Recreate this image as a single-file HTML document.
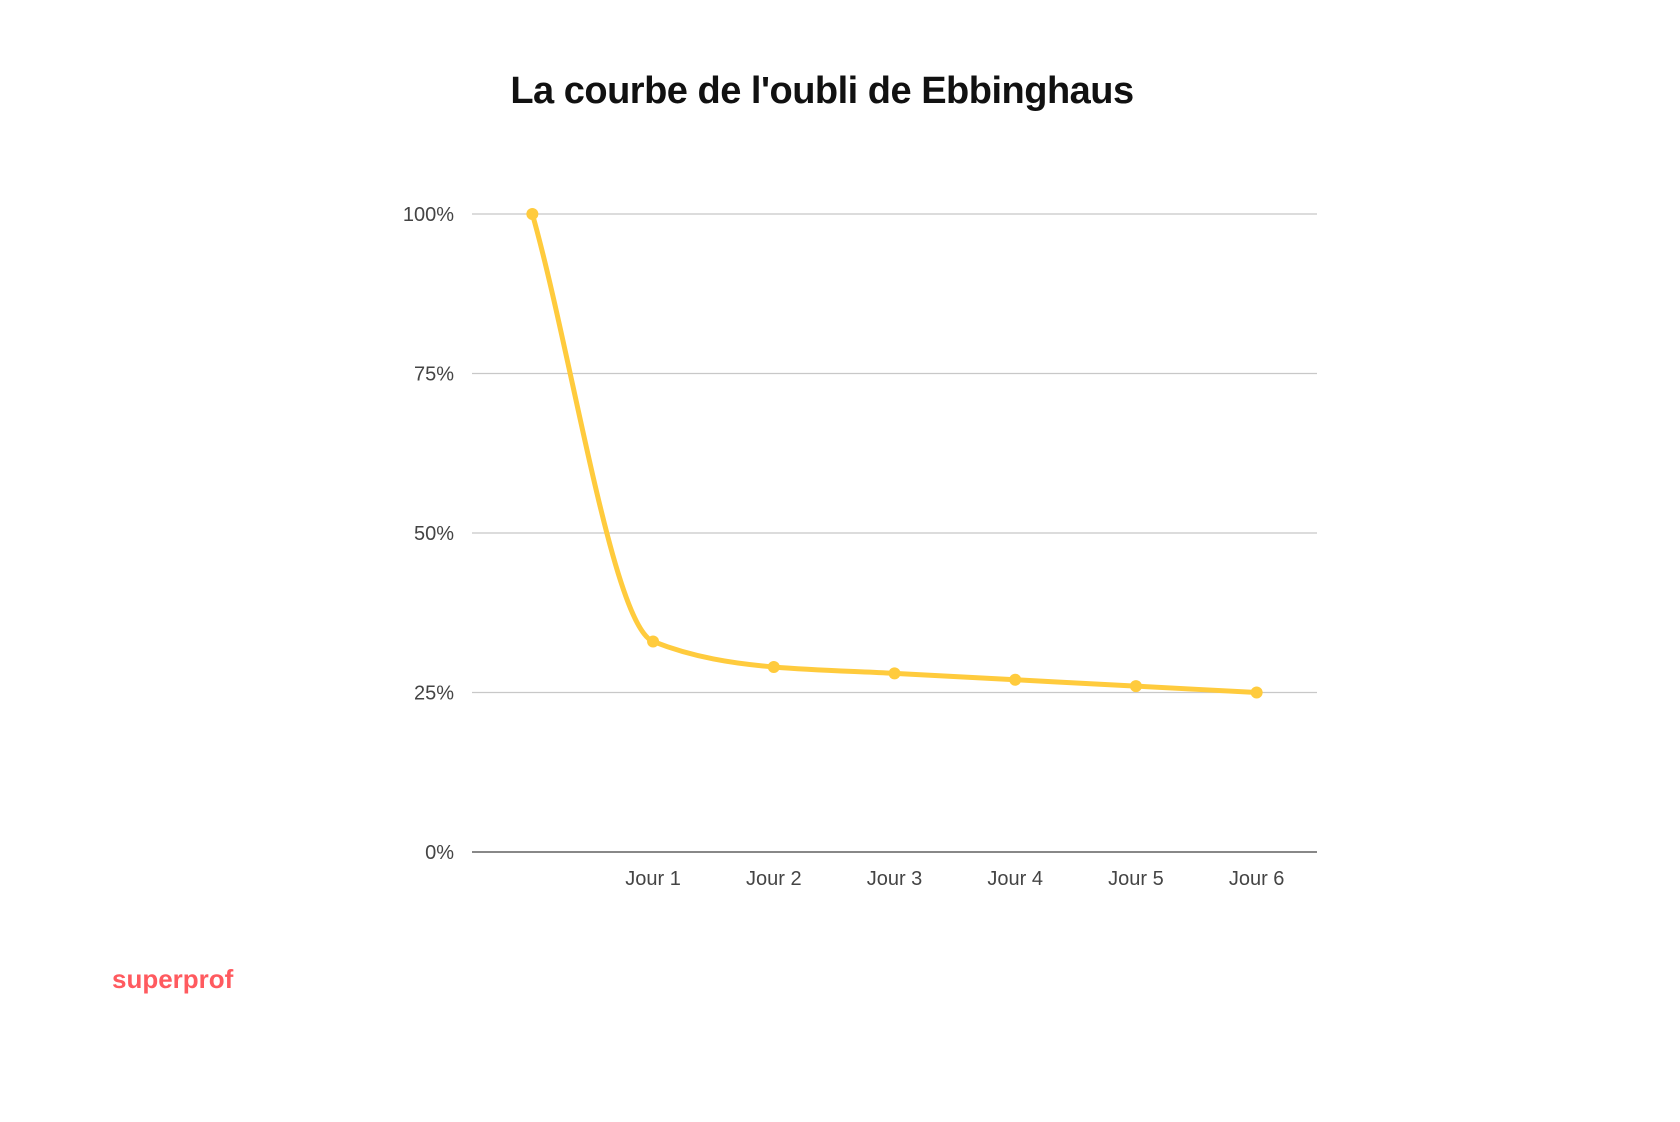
<!DOCTYPE html>
<html><head><meta charset="utf-8"><style>
html,body{margin:0;padding:0;background:#fff;}
svg{display:block;}
</style></head><body>
<svg width="1680" height="1122" viewBox="0 0 1680 1122" xmlns="http://www.w3.org/2000/svg">
<text x="822" y="103" text-anchor="middle" font-family="Liberation Sans, sans-serif" font-weight="bold" font-size="38" fill="#111" letter-spacing="-0.5">La courbe de l'oubli de Ebbinghaus</text>
<g id="grid"></g>
<g id="ylab"></g>
<g id="xlab"></g>
<path id="line" fill="none" stroke="#FFCB3D" stroke-width="5" stroke-linecap="round"></path>
<g id="pts"></g>
<text x="112" y="988" font-family="Liberation Sans, sans-serif" font-weight="bold" font-size="26" fill="#FF5A5F">superprof</text>
</svg>
<script>
const categories = ["", "Jour 1", "Jour 2", "Jour 3", "Jour 4", "Jour 5", "Jour 6"];
const values = [100, 33, 29, 28, 27, 26, 25];
const yTicks = [0, 25, 50, 75, 100];
const yTickLabels = ["0%", "25%", "50%", "75%", "100%"];

const NS = "http://www.w3.org/2000/svg";
const x0 = 472, x1 = 1317, yTop = 214, yBot = 852;
const band = (x1 - x0) / categories.length;
const xs = i => x0 + band * (i + 0.5);
const ys = v => yBot - (v / 100) * (yBot - yTop);
function mk(tag, attrs, parent) { const e = document.createElementNS(NS, tag); for (const k in attrs) e.setAttribute(k, attrs[k]); parent.appendChild(e); return e; }

const grid = document.getElementById('grid'), ylab = document.getElementById('ylab'), xlab = document.getElementById('xlab');
yTicks.forEach((t, i) => {
  const l = mk('line', {x1: x0, x2: x1, y1: ys(t), y2: ys(t), stroke: t === 0 ? '#888' : '#c8c8c8', 'stroke-width': t === 0 ? 2 : 1.3}, grid);
  
  
  const tx = mk('text', {x: 454, y: ys(t) + 7, 'text-anchor': 'end', 'font-family': 'Liberation Sans, sans-serif', 'font-size': 20, fill: '#444'}, ylab);
  tx.textContent = yTickLabels[i];
  
  
});
categories.forEach((c, i) => {
  if (!c) return;
  const tx = mk('text', {x: xs(i), y: 885, 'text-anchor': 'middle', 'font-family': 'Liberation Sans, sans-serif', 'font-size': 20, fill: '#444'}, xlab);
  tx.textContent = c;
  
  
});
// monotone cubic
const P = values.map((v, i) => [xs(i), ys(v)]);
const n = P.length, d = [], m = [];
for (let i = 0; i < n - 1; i++) d.push((P[i+1][1] - P[i][1]) / (P[i+1][0] - P[i][0]));
m[0] = d[0]; m[n-1] = d[n-2];
for (let i = 1; i < n - 1; i++) m[i] = d[i-1] * d[i] <= 0 ? 0 : 2 / (1/d[i-1] + 1/d[i]);
let path = `M${P[0][0]},${P[0][1]}`;
for (let i = 0; i < n - 1; i++) {
  const h = (P[i+1][0] - P[i][0]) / 3;
  path += ` C${P[i][0]+h},${P[i][1]+m[i]*h} ${P[i+1][0]-h},${P[i+1][1]-m[i+1]*h} ${P[i+1][0]},${P[i+1][1]}`;
}
document.getElementById('line').setAttribute('d', path);
const pts = document.getElementById('pts');
P.forEach(p => {
  const c = mk('circle', {cx: p[0], cy: p[1], r: 6, fill: '#FFCB3D'}, pts);
  
  
});
</script>
</body></html>
